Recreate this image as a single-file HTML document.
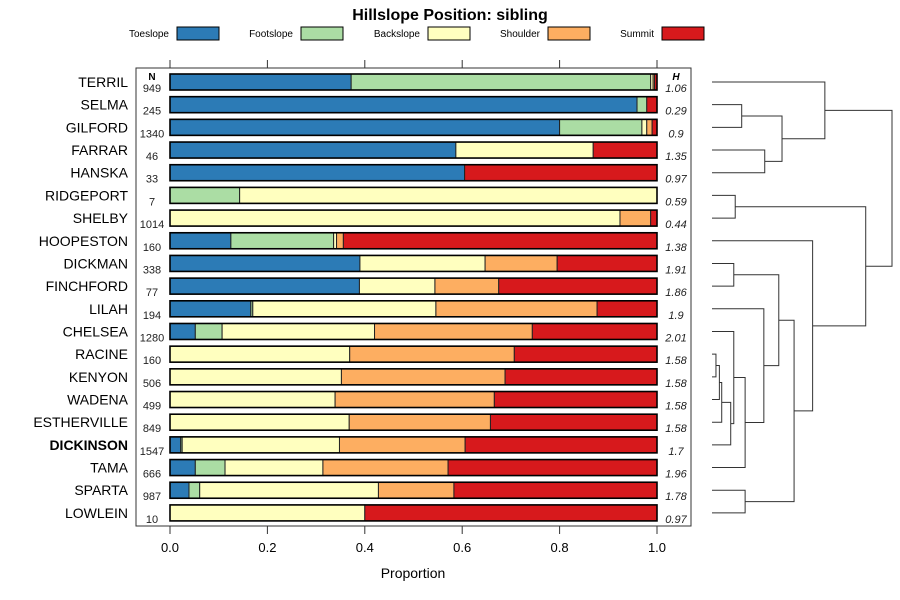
<!DOCTYPE html>
<html><head><meta charset="utf-8"><style>
body{margin:0;background:#fff;}
svg{display:block;font-family:"Liberation Sans",sans-serif;}
</style></head><body>
<svg id="chart" width="900" height="600" viewBox="0 0 900 600">
<text x="450" y="20" text-anchor="middle" font-size="16" font-weight="bold">Hillslope Position: sibling</text>
<g id="legend"></g>
<rect x="136" y="68" width="555" height="458" fill="none" stroke="#333" stroke-width="1"/>
<g id="bars"></g>
<g id="axes"></g>
<g id="dendro"></g>
<text x="413" y="578" text-anchor="middle" font-size="14">Proportion</text>
</svg>
<script>
const categories = ["TERRIL","SELMA","GILFORD","FARRAR","HANSKA","RIDGEPORT","SHELBY","HOOPESTON","DICKMAN","FINCHFORD","LILAH","CHELSEA","RACINE","KENYON","WADENA","ESTHERVILLE","DICKINSON","TAMA","SPARTA","LOWLEIN"];
const seriesNames = ["Toeslope","Footslope","Backslope","Shoulder","Summit"];
const toeslope  = [.372,.959,.80,.587,.605,0,0,.125,.39,.389,.166,.052,0,0,0,0,.022,.052,.039,0];
const footslope = [.615,.020,.169,0,0,.143,0,.211,0,0,.004,.055,0,0,0,0,.003,.061,.022,0];
const backslope = [.005,0,.01,.282,0,.857,.924,.006,.257,.155,.376,.313,.369,.352,.339,.368,.323,.201,.367,.40];
const shoulder  = [.003,0,.011,0,0,0,.063,.014,.148,.131,.331,.324,.338,.336,.327,.290,.258,.257,.155,0];
const summit    = [.005,.021,.01,.131,.395,0,.013,.644,.205,.325,.123,.256,.293,.312,.334,.342,.394,.429,.417,.60];
const nValues = ["949","245","1340","46","33","7","1014","160","338","77","194","1280","160","506","499","849","1547","666","987","10"];
const hValues = ["1.06","0.29","0.9","1.35","0.97","0.59","0.44","1.38","1.91","1.86","1.9","2.01","1.58","1.58","1.58","1.58","1.7","1.96","1.78","0.97"];
const xTicks = [0,0.2,0.4,0.6,0.8,1.0];
const xTickLabels = ["0.0","0.2","0.4","0.6","0.8","1.0"];
const colors = ["#2c7bb6","#abdda4","#ffffbf","#fdae61","#d7191c"];
// dendrogram merges: [left, right, height]; negative = leaf index (-(i+1)), positive = merge index (1-based)
const merges = [
 [-13,-14,0.022],[1,-15,0.041],[2,-16,0.054],[3,-17,0.104],[4,-12,0.121],[5,-18,0.184],[6,-11,0.288],
 [-9,-10,0.121],[7,8,0.371],[-19,-20,0.184],[9,10,0.456],[-8,11,0.559],[-6,-7,0.129],[12,13,0.854],
 [-2,-3,0.165],[-4,-5,0.293],[15,16,0.389],[-1,17,0.627],[18,14,1.0]
];
const NS="http://www.w3.org/2000/svg";
function mk(tag,attrs,parent){const e=document.createElementNS(NS,tag);for(const k in attrs)e.setAttribute(k,attrs[k]);parent.appendChild(e);return e;}
const x0=170,x1=657;
const xs=v=>x0+v*(x1-x0);
const ys=i=>82+i*22.68;
const dx=h=>712+h*(892-712);

// legend
const lg=document.getElementById('legend');
const legX=[177,301,428,548,662];
seriesNames.forEach((n,i)=>{
 const t=mk('text',{x:legX[i]-8,y:37,'text-anchor':'end','font-size':10},lg);t.textContent=n;
 
 
 const r=mk('rect',{x:legX[i],y:27,width:42,height:13,fill:colors[i],stroke:'#000','stroke-width':1},lg);
 
 
});

// bars
const bg=document.getElementById('bars');
const series=[toeslope,footslope,backslope,shoulder,summit];
const nt=mk('text',{x:152,y:80,'text-anchor':'middle','font-size':10,'font-weight':'bold'},bg);nt.textContent='N';


const ht=mk('text',{x:676,y:80,'text-anchor':'middle','font-size':10,'font-weight':'bold','font-style':'italic'},bg);ht.textContent='H';


categories.forEach((c,i)=>{
 const y=ys(i);
 let cum=0;
 const tot=series.reduce((a,s)=>a+s[i],0);
 series.forEach((s,k)=>{
  const v=s[i]/tot; if(v<=0) return;
  const r=mk('rect',{x:xs(cum),y:y-8,width:xs(cum+v)-xs(cum),height:16,fill:colors[k],stroke:'#222','stroke-width':1},bg);
  
  
  cum+=v;
 });
 const o=mk('rect',{x:x0,y:y-8,width:x1-x0,height:16,fill:'none',stroke:'#000','stroke-width':1.6},bg);
 
 
 const lab=mk('text',{x:128,y:y+5,'text-anchor':'end','font-size':14,'font-weight':c==='DICKINSON'?'bold':'normal'},bg);lab.textContent=c;
 
 
 const n=mk('text',{x:152,y:y+10,'text-anchor':'middle','font-size':11,fill:'#222'},bg);n.textContent=nValues[i];
 
 
 const h=mk('text',{x:676,y:y+10,'text-anchor':'middle','font-size':11,'font-style':'italic',fill:'#222'},bg);h.textContent=hValues[i];
 
 
});

// axes
const ax=document.getElementById('axes');
xTicks.forEach((v,i)=>{
 const tt=mk('line',{x1:xs(v),x2:xs(v),y1:60,y2:68,stroke:'#333'},ax);
 
 
 const tb=mk('line',{x1:xs(v),x2:xs(v),y1:526,y2:534,stroke:'#333'},ax);
 
 
 const tl=mk('text',{x:xs(v),y:552,'text-anchor':'middle','font-size':13},ax);tl.textContent=xTickLabels[i];
 
 
});

// dendrogram
const dg=document.getElementById('dendro');
const nodes=[];
function pos(ref){ if(ref<0) return {x:dx(0),y:ys(-ref-1)}; return nodes[ref-1]; }
merges.forEach(m=>{
 const a=pos(m[0]),b=pos(m[1]);const X=dx(m[2]);
 const p=mk('path',{d:`M${a.x},${a.y}H${X}V${b.y}H${b.x}`,fill:'none',stroke:'#333','stroke-width':1},dg);
 
 
 nodes.push({x:X,y:(a.y+b.y)/2});
});
</script>
</body></html>
